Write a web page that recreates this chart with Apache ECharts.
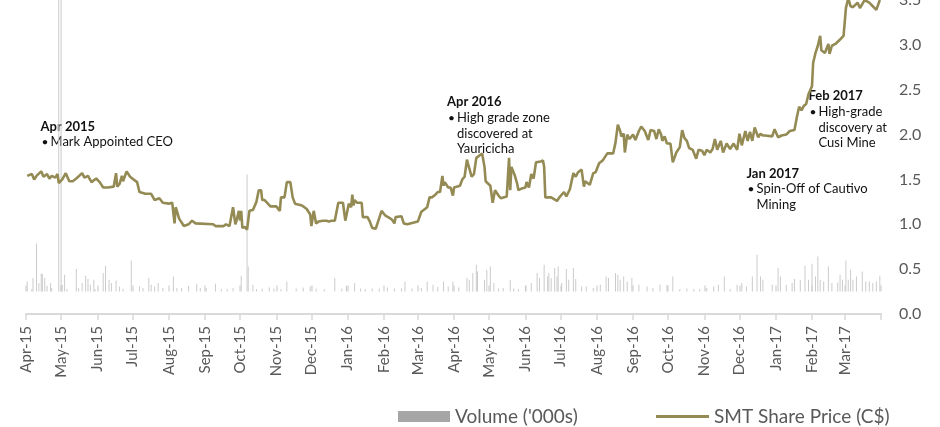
<!DOCTYPE html>
<html>
<head>
<meta charset="utf-8">
<script src="https://cdn.jsdelivr.net/npm/echarts@6/dist/echarts.min.js"></script>
<style>
  html, body { margin: 0; padding: 0; background: #fff; }
  #chart { width: 940px; height: 427px; }
</style>
</head>
<body>
<div id="chart"></div>
<script>
// SMT share price (C$) — [date, close]
const priceData = [
  ['2015-04-02',1.54],['2015-04-06',1.56],['2015-04-08',1.50],['2015-04-10',1.54],['2015-04-14',1.59],['2015-04-16',1.53],['2015-04-19',1.56],['2015-04-21',1.51],['2015-04-23',1.54],['2015-04-26',1.52],['2015-04-28',1.56],['2015-04-29',1.46],
  ['2015-05-02',1.50],['2015-05-05',1.57],['2015-05-08',1.48],['2015-05-11',1.48],['2015-05-14',1.51],['2015-05-19',1.57],['2015-05-21',1.52],['2015-05-24',1.54],['2015-05-27',1.47],['2015-05-31',1.51],
  ['2015-06-03',1.47],['2015-06-06',1.41],['2015-06-10',1.41],['2015-06-15',1.42],['2015-06-17',1.57],['2015-06-18',1.42],['2015-06-20',1.45],['2015-06-22',1.54],['2015-06-23',1.48],['2015-06-26',1.59],['2015-06-29',1.53],
  ['2015-07-02',1.50],['2015-07-05',1.47],['2015-07-07',1.36],['2015-07-12',1.34],['2015-07-17',1.34],['2015-07-20',1.27],['2015-07-24',1.29],['2015-07-27',1.24],
  ['2015-08-01',1.23],['2015-08-04',1.24],['2015-08-06',1.01],['2015-08-07',1.19],['2015-08-10',1.06],['2015-08-14',0.98],['2015-08-18',1.00],['2015-08-21',1.04],['2015-08-24',1.01],['2015-08-25',1.00],
  ['2015-09-08',1.00],['2015-09-10',0.98],['2015-09-17',0.98],['2015-09-19',1.00],['2015-09-22',0.98],['2015-09-25',1.19],['2015-09-27',1.00],['2015-09-28',1.04],['2015-09-30',1.15],
  ['2015-10-01',1.04],['2015-10-02',1.15],['2015-10-03',0.96],['2015-10-05',0.97],['2015-10-07',0.94],['2015-10-09',1.15],['2015-10-12',1.16],['2015-10-15',1.25],['2015-10-17',1.38],['2015-10-19',1.38],['2015-10-20',1.27],['2015-10-22',1.27],['2015-10-27',1.20],
  ['2015-11-01',1.20],['2015-11-04',1.15],['2015-11-05',1.30],['2015-11-08',1.30],['2015-11-10',1.47],['2015-11-13',1.47],['2015-11-15',1.30],['2015-11-17',1.23],['2015-11-23',1.21],['2015-11-27',1.17],['2015-11-30',1.11],
  ['2015-12-01',0.98],['2015-12-03',1.15],['2015-12-05',1.01],['2015-12-07',1.03],['2015-12-11',1.04],['2015-12-14',1.04],['2015-12-16',1.03],['2015-12-18',1.04],['2015-12-21',1.04],['2015-12-24',1.24],['2015-12-28',1.24],['2015-12-30',1.04],['2015-12-31',1.04],
  ['2016-01-02',1.23],['2016-01-04',1.19],['2016-01-05',1.33],['2016-01-06',1.21],['2016-01-07',1.27],['2016-01-09',1.24],['2016-01-13',1.24],['2016-01-14',1.08],['2016-01-18',1.08],['2016-01-20',1.03],['2016-01-22',0.96],['2016-01-25',0.95],['2016-01-27',1.03],['2016-01-30',1.15],
  ['2016-02-02',1.10],['2016-02-06',1.07],['2016-02-08',1.05],['2016-02-10',1.01],['2016-02-11',1.08],['2016-02-16',1.09],['2016-02-18',1.01],['2016-02-21',1.00],
  ['2016-03-01',1.03],['2016-03-04',1.14],['2016-03-06',1.16],['2016-03-07',1.16],['2016-03-09',1.19],['2016-03-11',1.30],['2016-03-13',1.30],['2016-03-16',1.33],['2016-03-18',1.36],['2016-03-20',1.36],['2016-03-22',1.54],['2016-03-23',1.43],['2016-03-24',1.47],['2016-03-27',1.41],['2016-03-29',1.41],['2016-03-31',1.32],
  ['2016-04-01',1.41],['2016-04-06',1.43],['2016-04-08',1.50],['2016-04-10',1.53],['2016-04-12',1.72],['2016-04-13',1.67],['2016-04-16',1.53],['2016-04-18',1.56],['2016-04-20',1.74],['2016-04-23',1.77],['2016-04-25',1.79],['2016-04-27',1.64],['2016-04-28',1.48],
  ['2016-05-02',1.43],['2016-05-04',1.24],['2016-05-06',1.38],['2016-05-09',1.32],['2016-05-11',1.29],['2016-05-16',1.31],['2016-05-18',1.74],['2016-05-19',1.38],['2016-05-20',1.64],['2016-05-23',1.54],['2016-05-25',1.45],['2016-05-26',1.38],['2016-05-29',1.40],
  ['2016-06-01',1.41],['2016-06-02',1.47],['2016-06-04',1.41],['2016-06-06',1.56],['2016-06-08',1.51],['2016-06-10',1.69],['2016-06-14',1.70],['2016-06-16',1.71],['2016-06-17',1.64],['2016-06-18',1.30],['2016-06-23',1.30],['2016-06-28',1.26],['2016-06-30',1.30],
  ['2016-07-04',1.36],['2016-07-06',1.31],['2016-07-09',1.39],['2016-07-12',1.57],['2016-07-14',1.53],['2016-07-16',1.58],['2016-07-19',1.61],['2016-07-21',1.42],['2016-07-22',1.48],['2016-07-23',1.46],['2016-07-26',1.44],['2016-07-29',1.57],['2016-07-31',1.58],
  ['2016-08-03',1.68],['2016-08-06',1.71],['2016-08-10',1.79],['2016-08-15',1.79],['2016-08-17',1.91],['2016-08-19',2.11],['2016-08-21',2.04],['2016-08-22',1.98],['2016-08-24',2.01],['2016-08-25',1.80],['2016-08-27',2.00],['2016-08-29',1.95],
  ['2016-09-01',2.00],['2016-09-03',1.94],['2016-09-06',2.04],['2016-09-08',2.09],['2016-09-11',2.04],['2016-09-14',1.94],['2016-09-16',2.05],['2016-09-19',2.04],['2016-09-21',1.95],['2016-09-23',2.06],['2016-09-25',2.00],['2016-09-26',1.93],['2016-09-28',1.98],['2016-09-30',1.90],
  ['2016-10-03',1.90],['2016-10-05',1.69],['2016-10-08',1.80],['2016-10-11',1.86],['2016-10-13',2.05],['2016-10-15',1.96],['2016-10-17',1.93],['2016-10-19',1.85],['2016-10-22',1.83],['2016-10-25',1.73],['2016-10-27',1.83],['2016-10-30',1.82],
  ['2016-11-01',1.77],['2016-11-03',1.83],['2016-11-06',1.80],['2016-11-08',1.84],['2016-11-10',1.95],['2016-11-12',1.83],['2016-11-15',1.93],['2016-11-17',1.80],['2016-11-20',1.90],['2016-11-23',1.84],['2016-11-26',1.90],['2016-11-29',1.83],
  ['2016-12-01',2.01],['2016-12-03',1.88],['2016-12-06',2.04],['2016-12-08',1.93],['2016-12-10',2.03],['2016-12-12',1.93],['2016-12-14',2.08],['2016-12-17',1.97],['2016-12-19',2.01],['2016-12-21',1.99],['2016-12-23',1.99],['2016-12-29',1.98],['2016-12-31',2.06],
  ['2017-01-03',1.97],['2017-01-06',1.99],['2017-01-10',2.00],['2017-01-13',2.04],['2017-01-17',2.05],['2017-01-19',2.19],['2017-01-21',2.31],['2017-01-23',2.27],['2017-01-25',2.32],['2017-01-27',2.34],['2017-01-29',2.45],
  ['2017-02-01',2.54],['2017-02-02',2.80],['2017-02-04',2.91],['2017-02-06',2.99],['2017-02-08',3.10],['2017-02-09',2.94],['2017-02-12',2.91],['2017-02-15',3.01],['2017-02-16',2.90],['2017-02-18',2.99],['2017-02-21',3.01],['2017-02-25',3.06],['2017-02-28',3.10],
  ['2017-03-02',3.41],['2017-03-04',3.52],['2017-03-06',3.43],['2017-03-08',3.42],['2017-03-12',3.47],['2017-03-14',3.41],['2017-03-18',3.50],['2017-03-22',3.47],['2017-03-25',3.43],['2017-03-28',3.39],['2017-03-31',3.50]
];

// Daily traded volume ('000s) — [date, volume]
const volumeData = [
  ['2015-04-02',100],['2015-04-06',24],['2015-04-07',134],['2015-04-10',480],['2015-04-12',85],['2015-04-14',180],['2015-04-15',175],['2015-04-17',134],['2015-04-19',57],['2015-04-22',84],['2015-04-23',34],
  ['2015-04-29',3400],['2015-05-01',3400],['2015-05-02',67],['2015-05-04',167],['2015-05-06',24],['2015-05-14',224],['2015-05-16',34],['2015-05-19',84],['2015-05-22',157],['2015-05-24',124],['2015-05-26',67],['2015-05-29',117],['2015-05-30',24],
  ['2015-06-06',184],['2015-06-08',257],['2015-06-11',117],['2015-06-13',84],['2015-06-17',110],['2015-06-20',50],['2015-06-23',24],['2015-06-30',310],
  ['2015-07-07',50],['2015-07-10',34],['2015-07-15',134],['2015-07-17',67],['2015-07-20',50],['2015-07-23',84],['2015-07-27',34],
  ['2015-08-05',150],['2015-08-08',34],['2015-08-12',34],['2015-08-18',57],['2015-08-25',77],['2015-08-28',34],
  ['2015-09-02',34],['2015-09-10',77],['2015-09-15',25],['2015-09-20',24],['2015-09-25',34],
  ['2015-10-02',157],['2015-10-07',1170],['2015-10-08',250],['2015-10-12',67],['2015-10-15',24],['2015-10-20',30],['2015-10-26',40],['2015-10-30',30],
  ['2015-11-05',25],['2015-11-10',100],['2015-11-18',30],['2015-11-24',40],['2015-11-30',50],
  ['2015-12-05',30],['2015-12-12',25],['2015-12-21',134],['2015-12-27',30],['2015-12-31',57],
  ['2016-01-07',84],['2016-01-12',30],['2016-01-16',24],['2016-01-22',30],['2016-01-28',30],
  ['2016-02-04',40],['2016-02-10',30],['2016-02-16',30],['2016-02-19',100],['2016-02-25',30],
  ['2016-03-04',35],['2016-03-09',100],['2016-03-14',67],['2016-03-18',45],['2016-03-23',100],['2016-03-27',50],['2016-03-31',100],
  ['2016-04-05',40],['2016-04-12',134],['2016-04-14',117],['2016-04-17',184],['2016-04-20',267],['2016-04-21',200],['2016-04-27',117],['2016-04-29',217],
  ['2016-05-02',250],['2016-05-05',84],['2016-05-09',30],['2016-05-13',34],['2016-05-19',117],['2016-05-22',30],['2016-05-26',24],
  ['2016-06-01',57],['2016-06-06',84],['2016-06-11',184],['2016-06-13',134],['2016-06-17',267],['2016-06-20',150],['2016-06-21',184],['2016-06-23',134],['2016-06-26',234],['2016-06-28',150],['2016-06-29',250],
  ['2016-07-02',84],['2016-07-06',224],['2016-07-08',117],['2016-07-12',234],['2016-07-14',124],['2016-07-19',50],['2016-07-23',50],['2016-07-29',34],
  ['2016-08-04',67],['2016-08-09',150],['2016-08-11',134],['2016-08-17',184],['2016-08-19',167],['2016-08-21',117],['2016-08-24',150],['2016-08-27',100],['2016-08-31',134],
  ['2016-09-06',67],['2016-09-13',50],['2016-09-18',34],['2016-09-24',67],['2016-09-30',67],
  ['2016-10-05',150],['2016-10-11',24],['2016-10-17',30],['2016-10-23',24],['2016-10-28',24],
  ['2016-11-03',34],['2016-11-09',50],['2016-11-13',67],['2016-11-18',150],['2016-11-23',24],['2016-11-29',67],
  ['2016-12-03',84],['2016-12-07',50],['2016-12-12',150],['2016-12-16',367],['2016-12-19',150],['2016-12-21',117],['2016-12-29',67],
  ['2017-01-03',234],['2017-01-05',150],['2017-01-10',67],['2017-01-15',84],['2017-01-17',124],['2017-01-22',117],['2017-01-26',257],['2017-01-29',117],
  ['2017-02-01',277],['2017-02-04',150],['2017-02-06',350],['2017-02-08',117],['2017-02-11',100],['2017-02-15',250],['2017-02-18',84],['2017-02-23',90],['2017-02-25',167],['2017-02-27',117],
  ['2017-03-02',310],['2017-03-04',117],['2017-03-06',217],['2017-03-08',117],['2017-03-11',150],['2017-03-16',200],['2017-03-19',100],['2017-03-22',100],['2017-03-25',84],['2017-03-28',100],['2017-03-31',157]
];

// Price axis ticks (right side)
const priceTicks = { min: 0, max: 3.5, interval: 0.5 };
// Hidden volume scale: zero sits just above the date axis
const volumeScale = { min: -225, max: 2915 };
const axisStart = '2015-04-01';
const axisEnd = '2017-04-01';
const monthNames = ['Jan','Feb','Mar','Apr','May','Jun','Jul','Aug','Sep','Oct','Nov','Dec'];

// One category per calendar day so months keep their true widths
const days = [];
(function () {
  const d = new Date(axisStart + 'T00:00:00Z');
  const end = new Date(axisEnd + 'T00:00:00Z');
  while (d <= end) {
    days.push(d.toISOString().slice(0, 10));
    d.setUTCDate(d.getUTCDate() + 1);
  }
})();

const isMonthStart = (i, v) => v.slice(8) === '01';
const isLabelled = (i, v) => v.slice(8) === '01' && v !== axisEnd;
const monthLabel = v => monthNames[+v.slice(5, 7) - 1] + '-' + v.slice(2, 4);

const FONT = 'Lato, "Open Sans", sans-serif';
const GRID_TXT = '#595959';
const AXIS_GREY = '#d9d9d9';
const LINE_COL = '#948A54';

// Event notes
function note(x, y, title, lines) {
  const els = [{
    type: 'text', x: x, y: y,
    style: { text: title, fill: '#111', font: 'bold 13px ' + FONT, verticalAlign: 'middle', textVerticalAlign: 'middle' }
  }];
  lines.forEach((t, i) => {
    const ly = y + 15.7 * (i + 1);
    if (i === 0) {
      els.push({ type: 'text', x: x + 1, y: ly,
        style: { text: '•', fill: '#111', font: '12px ' + FONT, verticalAlign: 'middle', textVerticalAlign: 'middle' } });
    }
    els.push({ type: 'text', x: x + 10, y: ly,
      style: { text: t, fill: '#111', font: '13px ' + FONT, verticalAlign: 'middle', textVerticalAlign: 'middle' } });
  });
  return els;
}

const chart = echarts.init(document.getElementById('chart'), null, { renderer: 'canvas' });

chart.setOption({
  animation: false,
  backgroundColor: '#ffffff',
  textStyle: { fontFamily: FONT },
  grid: { left: 26, right: 59, top: 0, bottom: 113, containLabel: false, outerBoundsMode: 'none' },
  legend: [
    {
      left: 393, top: 402, itemWidth: 52, itemHeight: 11, itemGap: 7,
      icon: 'rect', selectedMode: false,
      textStyle: { fontSize: 19, color: GRID_TXT, fontFamily: FONT },
      data: [{ name: "Volume ('000s)", itemStyle: { color: '#a6a6a6' } }]
    },
    {
      left: 651, top: 402, itemWidth: 53, itemHeight: 3, itemGap: 5,
      icon: 'rect', selectedMode: false,
      textStyle: { fontSize: 19, color: GRID_TXT, fontFamily: FONT },
      data: [{ name: 'SMT Share Price (C$)', itemStyle: { color: LINE_COL } }]
    }
  ],
  xAxis: [
    {
      type: 'category', data: days, boundaryGap: false, position: 'bottom',
      axisLine: { lineStyle: { color: AXIS_GREY, width: 2 } },
      axisTick: { interval: isMonthStart, length: 6, lineStyle: { color: AXIS_GREY, width: 1.5 } },
      axisLabel: {
        interval: isLabelled, rotate: 90, margin: 12, fontSize: 15,
        color: GRID_TXT, fontFamily: FONT, formatter: monthLabel
      },
      splitLine: { show: false }
    },
    {
      type: 'category', data: days, boundaryGap: false, position: 'bottom',
      axisLine: { show: false },
      axisTick: { inside: true, interval: isMonthStart, length: 6, lineStyle: { color: AXIS_GREY, width: 1.5 } },
      axisLabel: { show: false },
      splitLine: { show: false }
    }
  ],
  yAxis: [
    {
      type: 'value', position: 'right',
      min: priceTicks.min, max: priceTicks.max, interval: priceTicks.interval,
      axisLine: { show: false }, axisTick: { show: false }, splitLine: { show: false },
      axisLabel: { margin: 18, fontSize: 16, color: GRID_TXT, fontFamily: FONT, formatter: v => v.toFixed(1) }
    },
    {
      type: 'value', min: volumeScale.min, max: volumeScale.max, show: false, splitLine: { show: false }
    }
  ],
  series: [
    {
      name: "Volume ('000s)", type: 'bar', xAxisIndex: 0, yAxisIndex: 1,
      data: volumeData, barWidth: 1, silent: true,
      itemStyle: { color: '#cbcbcb' }
    },
    {
      name: 'SMT Share Price (C$)', type: 'line', xAxisIndex: 0, yAxisIndex: 0,
      data: priceData, symbol: 'none', showSymbol: false, silent: true,
      lineStyle: { color: LINE_COL, width: 2.6 },
      itemStyle: { color: LINE_COL }, z: 3
    }
  ],
  graphic: [].concat(
    note(40.5, 126.5, 'Apr 2015', ['Mark Appointed CEO']),
    note(447, 102, 'Apr 2016', ['High grade zone', 'discovered at', 'Yauricicha']),
    note(808.5, 96, 'Feb 2017', ['High-grade', 'discovery at', 'Cusi Mine']),
    note(746.5, 173.5, 'Jan 2017', ['Spin-Off of Cautivo', 'Mining'])
  )
});
</script>
</body>
</html>
